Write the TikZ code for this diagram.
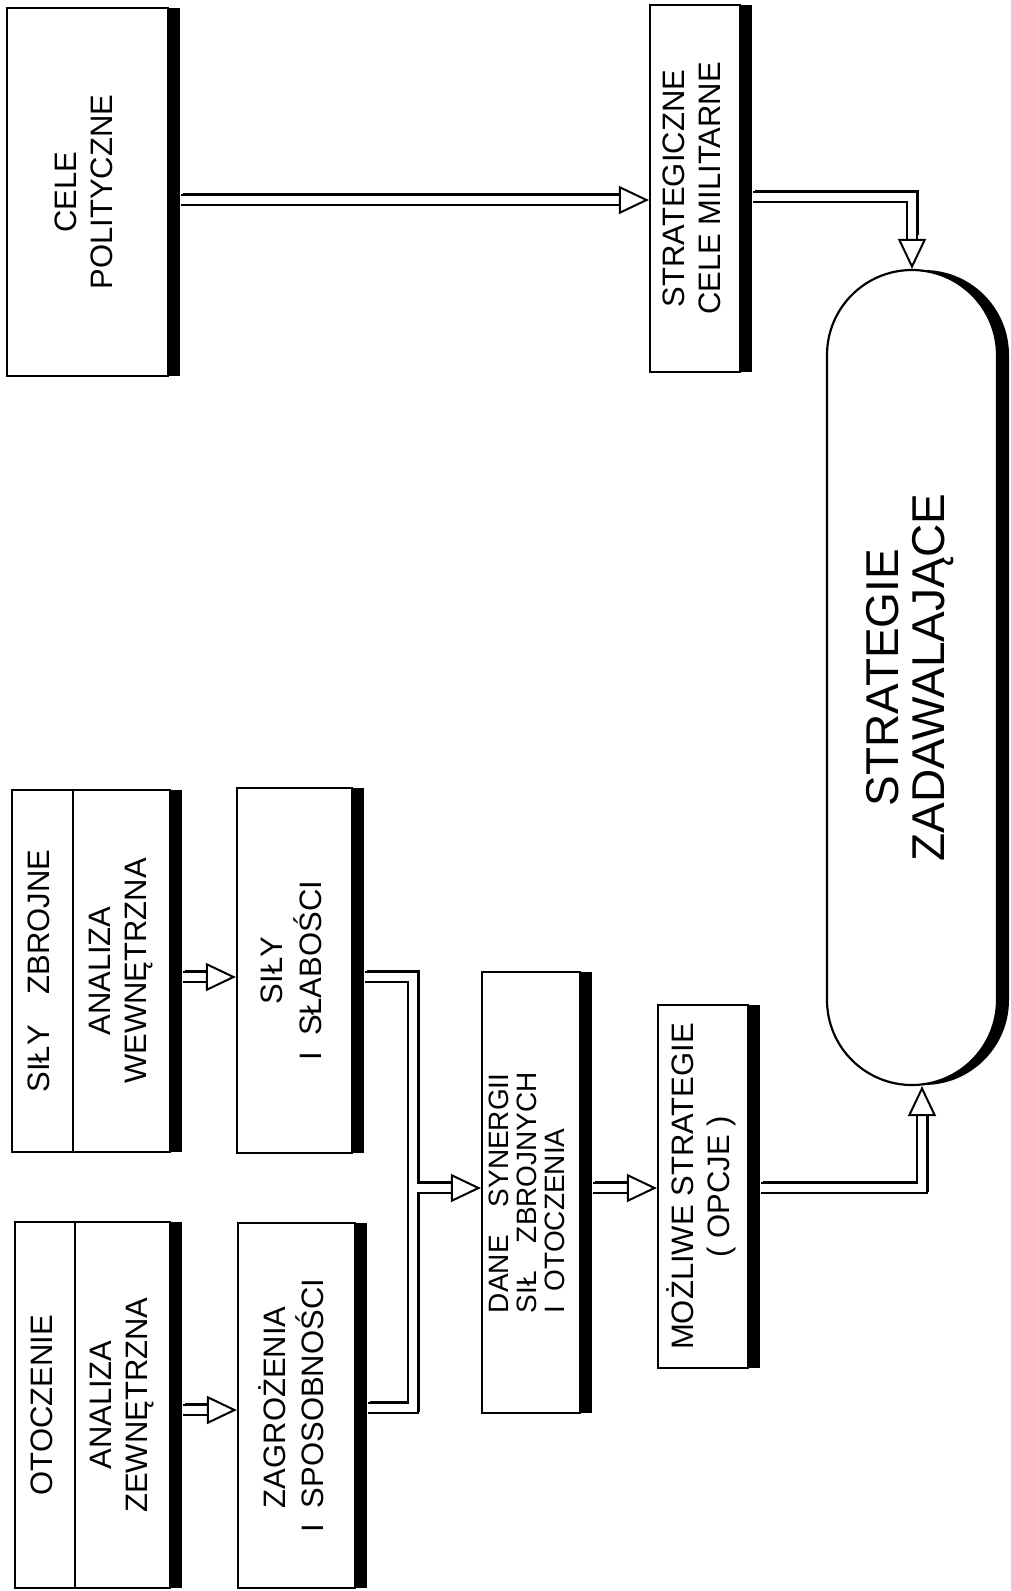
\documentclass[tikz,border=0pt]{standalone}
\usepackage{fontspec}
\setmainfont{Liberation Sans}
\usetikzlibrary{arrows.meta,positioning,shadows}

\tikzset{
  box/.style={draw, line width=1.1pt, fill=white, inner sep=0pt,
    drop shadow={shadow xshift=6pt, shadow yshift=0pt, fill=black, opacity=1}},
  strip/.style={draw, line width=1.1pt, fill=white, inner sep=0pt},
  pipe/.style={double=white, double distance=3.6pt, line width=1pt,
    -{Triangle[open, length=15pt, width=14pt, line width=1pt]}},
  pipeshade/.style={draw, line width=5.6pt, shorten >=16pt,
    transform canvas={xshift=0.9pt, yshift=0.9pt}},
}
\newcommand{\vtext}[2][c]{\rotatebox{90}{\begin{tabular}{@{}#1@{}}#2\end{tabular}}}
\newcommand{\pipeline}[1]{\draw[pipeshade] #1; \draw[pipe] #1;}

\begin{document}
\begin{tikzpicture}[x=0.5pt, y=-0.5pt, font=\fontsize{15.5}{18}\selectfont]
  \fill[white] (0,0) rectangle (1011,1591);
  \useasboundingbox (0,0) rectangle (1011,1591);

  % Political goals -> military goals
  \node[box, minimum width=80.5pt, minimum height=184pt] (cele) at (87.5,192) {\vtext{CELE\\POLITYCZNE}};
  \node[box, minimum width=45pt, minimum height=183.5pt] (strat) at (695,188.5) {\vtext{STRATEGICZNE\\CELE MILITARNE}};

  % Satisfying strategies
  \node[box, rounded corners=42.5pt, minimum width=85pt, minimum height=407.5pt,
    font=\fontsize{23}{22}\selectfont] (pill) at (912,677.5) {\vtext{STRATEGIE\\ZADAWALAJĄCE}};

  % Armed forces, internal analysis
  \node[strip, minimum width=30.5pt, minimum height=181pt] (szlab) at (42.5,971) {\vtext{SIŁY\quad ZBROJNE}};
  \node[box, right=-1.1pt of szlab, minimum width=48.5pt, minimum height=181pt] (szan) {\vtext{ANALIZA\\WEWNĘTRZNA}};
  \node[box, minimum width=57.5pt, minimum height=182.5pt] (sily) at (294.5,970.5) {\vtext{SIŁY\\I\enspace SŁABOŚCI}};

  % Environment, external analysis
  \node[strip, minimum width=30pt, minimum height=183pt] (otlab) at (45,1405) {\vtext{OTOCZENIE}};
  \node[box, right=-1.1pt of otlab, minimum width=47.5pt, minimum height=183pt] (otan) {\vtext{ANALIZA\\ZEWNĘTRZNA}};
  \node[box, minimum width=58.5pt, minimum height=182.5pt] (zagr) at (296.5,1405.5) {\vtext[l]{\hphantom{I\enspace}ZAGROŻENIA\\I\enspace SPOSOBNOŚCI}};

  % Synergy and options
  \node[box, minimum width=49pt, minimum height=220.5pt, font=\fontsize{14}{14}\selectfont] (dane) at (531,1192.5) {\vtext[l]{DANE\quad SYNERGII\\SIŁ\quad ZBROJNYCH\\I\enspace OTOCZENIA}};
  \node[box, minimum width=45pt, minimum height=181.5pt] (mozl) at (703,1186.5) {\vtext{MOŻLIWE STRATEGIE\\( OPCJE )}};

  % Connector end points
  \coordinate (c1) at ([xshift=6pt, yshift=-4pt]cele.east);
  \coordinate (c2) at ([xshift=6pt, yshift=-4.25pt]strat.east);
  \coordinate (c3) at ([xshift=6pt, yshift=-3pt]szan.east);
  \coordinate (c4) at ([xshift=6pt, yshift=-2.5pt]otan.east);
  \coordinate (c5) at ([xshift=6pt, yshift=-3.25pt]sily.east);
  \coordinate (c6) at ([xshift=6pt, yshift=-1.25pt]zagr.east);
  \coordinate (c7) at ([xshift=6pt, yshift=2.25pt]dane.east);
  \coordinate (c8) at ([xshift=6pt, yshift=-0.75pt]mozl.east);
  \coordinate (jn) at (413,1188);

  % Arrows
  \pipeline{(c1) -- (c1 -| strat.west)}
  \pipeline{(c2) -| (pill.north)}
  \pipeline{(c3) -- (c3 -| sily.west)}
  \pipeline{(c4) -- (c4 -| zagr.west)}
  \pipeline{(c5) -| (jn) |- (c6) (jn) -- (jn -| dane.west)}
  \pipeline{(c7) -- (c7 -| mozl.west)}
  \pipeline{(c8) -| ([xshift=5pt]pill.south)}
\end{tikzpicture}
\end{document}
